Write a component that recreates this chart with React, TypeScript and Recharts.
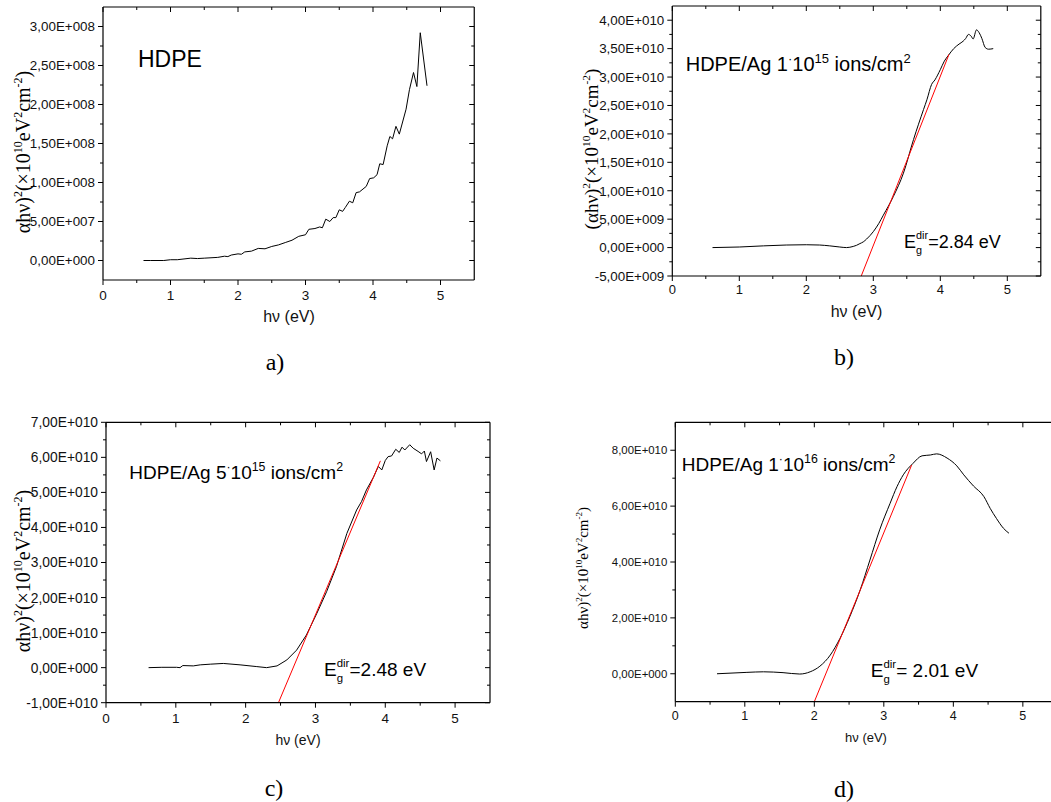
import React from 'react';
import { LineChart, Line, XAxis, YAxis } from 'recharts';

const SANS = '"Liberation Sans", Arial, Helvetica, sans-serif';
const SERIF = '"Liberation Serif", "Times New Roman", Times, serif';

// a) pristine HDPE, (αhν)² in units of 1e8
const hdpeEnergy = [0.6, 0.7, 0.8, 0.9, 1.0, 1.1, 1.2, 1.3, 1.4, 1.5, 1.6, 1.7, 1.8, 1.85, 1.9, 2.0, 2.05, 2.1, 2.2, 2.3, 2.4, 2.5, 2.6, 2.7, 2.8, 2.9, 3.0, 3.05, 3.14, 3.21, 3.25, 3.3, 3.36, 3.41, 3.45, 3.5, 3.55, 3.59, 3.65, 3.7, 3.75, 3.8, 3.9, 3.95, 4.01, 4.06, 4.1, 4.15, 4.21, 4.25, 4.29, 4.34, 4.39, 4.49, 4.54, 4.6, 4.65, 4.7, 4.8];
const hdpeAbs = [0.0, 0.0, 0.0, 0.0, 0.01, 0.01, 0.02, 0.03, 0.025, 0.03, 0.035, 0.04, 0.055, 0.05, 0.07, 0.085, 0.08, 0.11, 0.12, 0.155, 0.15, 0.18, 0.2, 0.23, 0.26, 0.31, 0.33, 0.4, 0.41, 0.43, 0.42, 0.53, 0.5, 0.55, 0.55, 0.65, 0.63, 0.68, 0.76, 0.74, 0.87, 0.88, 0.95, 1.05, 1.06, 1.1, 1.24, 1.23, 1.47, 1.59, 1.56, 1.72, 1.62, 1.94, 2.19, 2.41, 2.23, 2.92, 2.24];

// b) HDPE/Ag 1e15, units of 1e10
const ag15Energy = [0.6, 1.0, 1.36, 1.7, 2.0, 2.2, 2.35, 2.5, 2.6, 2.7, 2.75, 2.8, 2.85, 2.9, 3.0, 3.08, 3.15, 3.3, 3.45, 3.6, 3.75, 3.8, 3.87, 3.92, 4.0, 4.06, 4.12, 4.2, 4.28, 4.34, 4.38, 4.42, 4.46, 4.49, 4.54, 4.58, 4.62, 4.67, 4.72, 4.79];
const ag15Abs = [0.0, 0.01, 0.03, 0.045, 0.05, 0.045, 0.03, 0.01, 0.0, 0.02, 0.04, 0.07, 0.1, 0.15, 0.28, 0.42, 0.57, 0.9, 1.31, 1.9, 2.43, 2.6, 2.87, 2.95, 3.13, 3.28, 3.38, 3.5, 3.58, 3.63, 3.68, 3.75, 3.72, 3.67, 3.83, 3.78, 3.68, 3.52, 3.49, 3.5];
const ag15FitEnergy = [2.82, 4.13];
const ag15FitAbs = [-0.5, 3.4];

// c) HDPE/Ag 5e15, units of 1e10
const ag515Energy = [0.61, 0.8, 1.01, 1.06, 1.1, 1.25, 1.35, 1.5, 1.68, 1.92, 2.16, 2.3, 2.45, 2.59, 2.73, 2.87, 3.02, 3.16, 3.3, 3.45, 3.59, 3.66, 3.73, 3.83, 3.9, 3.95, 4.0, 4.04, 4.09, 4.15, 4.2, 4.24, 4.28, 4.35, 4.4, 4.47, 4.52, 4.56, 4.59, 4.65, 4.7, 4.74, 4.79];
const ag515Abs = [0.0, 0.01, 0.01, 0.0, 0.06, 0.05, 0.08, 0.1, 0.12, 0.08, 0.03, 0.0, 0.05, 0.22, 0.5, 0.93, 1.55, 2.17, 2.88, 3.83, 4.5, 4.74, 5.07, 5.43, 5.74, 5.64, 5.91, 6.02, 6.04, 6.23, 6.14, 6.29, 6.21, 6.36, 6.26, 6.17, 6.1, 6.18, 5.88, 6.16, 5.64, 5.98, 5.9];
const ag515FitEnergy = [2.47, 3.93];
const ag515FitAbs = [-1.0, 5.9];

// d) HDPE/Ag 1e16, units of 1e10
const ag16Energy = [0.6, 1.03, 1.27, 1.55, 1.79, 1.94, 2.08, 2.23, 2.37, 2.51, 2.66, 2.8, 2.94, 3.09, 3.19, 3.28, 3.42, 3.55, 3.67, 3.76, 3.91, 4.05, 4.15, 4.29, 4.44, 4.53, 4.62, 4.72, 4.8];
const ag16Abs = [0.0, 0.05, 0.07, 0.04, -0.01, 0.07, 0.27, 0.67, 1.27, 2.04, 3.0, 4.07, 5.15, 6.1, 6.7, 7.12, 7.53, 7.8, 7.83, 7.87, 7.72, 7.44, 7.12, 6.72, 6.34, 5.92, 5.56, 5.21, 5.03];
const ag16FitEnergy = [2.0, 3.4];
const ag16FitAbs = [-1.0, 7.47];

const xTicks = [0, 0.5, 1, 1.5, 2, 2.5, 3, 3.5, 4, 4.5, 5];
const yTicksA = [0, 0.25, 0.5, 0.75, 1, 1.25, 1.5, 1.75, 2, 2.25, 2.5, 2.75, 3];
const yTicksB = [-0.5, -0.25, 0, 0.25, 0.5, 0.75, 1, 1.25, 1.5, 1.75, 2, 2.25, 2.5, 2.75, 3, 3.25, 3.5, 3.75, 4];
const yTicksC = [-1, -0.5, 0, 0.5, 1, 1.5, 2, 2.5, 3, 3.5, 4, 4.5, 5, 5.5, 6, 6.5, 7];
const yTicksD = [0, 1, 2, 3, 4, 5, 6, 7, 8];

const toPts = (xs: number[], ys: number[]) => xs.map((x, i) => ({ x, y: ys[i] }));

const isMult = (v: number, step: number) => Math.abs(v / step - Math.round(v / step)) < 1e-6;

// Origin style: 3,00E+008
const sci = (v: number) => {
  if (Math.abs(v) < 1e-9) return '0,00E+000';
  const e = Math.floor(Math.log10(Math.abs(v)) + 1e-9);
  const m = v / Math.pow(10, e);
  return `${m.toFixed(2).replace('.', ',')}E${e < 0 ? '-' : '+'}${String(Math.abs(e)).padStart(3, '0')}`;
};

const AXIS = { stroke: '#000', strokeWidth: 1.2 };

type Panel = {
  left: number;
  top: number;
  width: number;
  height: number;
  // plot-area box inside the panel (axes are 1px thick, so margins are reduced by 1)
  plot: { top: number; right: number; bottom: number; left: number };
  yDomain: [number, number];
  yTicks: number[];
  yStep: number;
  yScale: number;
  curve: { x: number; y: number }[];
  fit?: { x: number; y: number }[];
  smooth: boolean;
  fontSize: number;
  xFontSize: number;
  xLabelOffset: number;
};

function ChartPanel(p: Panel) {
  const bottomTick = (t: any) => {
    const v = t.payload.value;
    const major = isMult(v, 1);
    return (
      <g>
        <line x1={t.x} y1={t.y} x2={t.x} y2={t.y + (major ? 5 : 3)} stroke="#000" />
        {major && (
          <text x={t.x} y={t.y + p.xLabelOffset} textAnchor="middle" fontSize={p.xFontSize} fontFamily={SANS} fill="#111">
            {v}
          </text>
        )}
      </g>
    );
  };
  const topTick = (t: any) => {
    const major = isMult(t.payload.value, 1);
    return <line x1={t.x} y1={t.y} x2={t.x} y2={t.y + (major ? 5 : 3)} stroke="#000" />;
  };
  const leftTick = (t: any) => {
    const v = t.payload.value;
    const major = isMult(v, p.yStep);
    return (
      <g>
        <line x1={t.x - (major ? 5 : 3)} y1={t.y} x2={t.x} y2={t.y} stroke="#000" />
        {major && (
          <text x={t.x - 8} y={t.y + p.fontSize * 0.36} textAnchor="end" fontSize={p.fontSize} fontFamily={SANS} fill="#111">
            {sci(v * p.yScale)}
          </text>
        )}
      </g>
    );
  };
  const rightTick = (t: any) => {
    const major = isMult(t.payload.value, p.yStep);
    return <line x1={t.x - (major ? 5 : 3)} y1={t.y} x2={t.x} y2={t.y} stroke="#000" />;
  };

  const margin = {
    top: p.plot.top - 1,
    right: p.plot.right - 1,
    bottom: p.plot.bottom - 1,
    left: p.plot.left - 1,
  };

  return (
    <div style={{ position: 'absolute', left: p.left, top: p.top, width: p.width, height: p.height }}>
      <LineChart width={p.width} height={p.height} margin={margin}>
        <XAxis xAxisId="b" type="number" dataKey="x" domain={[0, 5.5]} allowDataOverflow ticks={xTicks} interval={0}
          height={1} tickSize={0} tickMargin={0} axisLine={AXIS} tickLine={false} tick={bottomTick} />
        <XAxis xAxisId="t" orientation="top" type="number" dataKey="x" domain={[0, 5.5]} allowDataOverflow ticks={xTicks} interval={0}
          height={1} tickSize={0} tickMargin={0} axisLine={AXIS} tickLine={false} tick={topTick} />
        <YAxis yAxisId="l" type="number" domain={p.yDomain} allowDataOverflow ticks={p.yTicks} interval={0}
          width={1} tickSize={0} tickMargin={0} axisLine={AXIS} tickLine={false} tick={leftTick} />
        <YAxis yAxisId="r" orientation="right" type="number" domain={p.yDomain} allowDataOverflow ticks={p.yTicks} interval={0}
          width={1} tickSize={0} tickMargin={0} axisLine={AXIS} tickLine={false} tick={rightTick} />
        <Line xAxisId="b" yAxisId="l" data={p.curve} dataKey="y" type={p.smooth ? 'monotone' : 'linear'}
          stroke="#000" strokeWidth={1} dot={false} isAnimationActive={false} />
        {p.fit && (
          <Line xAxisId="b" yAxisId="l" data={p.fit} dataKey="y" type="linear"
            stroke="#ff0000" strokeWidth={1} dot={false} isAnimationActive={false} />
        )}
      </LineChart>
    </div>
  );
}

function Eg({ x, y, size, value }: { x: number; y: number; size: number; value: string }) {
  const sub = size * 0.6;
  const dx = size * 0.67;
  return (
    <g fontFamily={SANS} fill="#000">
      <text x={x} y={y} fontSize={size}>E</text>
      <text x={x + dx} y={y - size * 0.5} fontSize={sub}>dir</text>
      <text x={x + dx} y={y + size * 0.33} fontSize={sub}>g</text>
      <text x={x + dx + sub * 1.12} y={y} fontSize={size}>{value}</text>
    </g>
  );
}

function Dose({ x, y, size, mant, exp }: { x: number; y: number; size: number; mant: string; exp: string }) {
  const s = size * 0.65;
  const up = size * 0.42;
  return (
    <text x={x} y={y} fontSize={size} fontFamily={SANS} fill="#000">
      {`HDPE/Ag ${mant}`}
      <tspan dy={-up} fontSize={s}>·</tspan>
      <tspan dy={up}>10</tspan>
      <tspan dy={-up} fontSize={s}>{exp}</tspan>
      <tspan dy={up}>{' ions/cm'}</tspan>
      <tspan dy={-up} fontSize={s}>2</tspan>
    </text>
  );
}

function YTitle({ x, y, size, open }: { x: number; y: number; size: number; open: boolean }) {
  const s = size * 0.6;
  const up = size * 0.4;
  return (
    <text transform={`translate(${x},${y}) rotate(-90)`} textAnchor="middle" fontSize={size} fontFamily={SERIF} fill="#000">
      {open ? '(αhν)' : 'αhν)'}
      <tspan dy={-up} fontSize={s}>2</tspan>
      <tspan dy={up}>{'(×10'}</tspan>
      <tspan dy={-up} fontSize={s}>10</tspan>
      <tspan dy={up}>{'eV'}</tspan>
      <tspan dy={-up} fontSize={s}>2</tspan>
      <tspan dy={up}>{'cm'}</tspan>
      <tspan dy={-up} fontSize={s}>-2</tspan>
      <tspan dy={up}>)</tspan>
    </text>
  );
}

export default function App() {
  const panels: Panel[] = [
    {
      left: 0, top: 0, width: 520, height: 320,
      plot: { top: 7, right: 45.75, bottom: 40, left: 103 },
      yDomain: [-0.25, 3.25], yTicks: yTicksA, yStep: 0.5, yScale: 1e8,
      curve: toPts(hdpeEnergy, hdpeAbs), smooth: false, fontSize: 13.4, xFontSize: 13.5, xLabelOffset: 20,
    },
    {
      left: 530, top: 0, width: 521, height: 320,
      plot: { top: 6, right: 10.2, bottom: 44, left: 142.3 },
      yDomain: [-0.5, 4.25], yTicks: yTicksB, yStep: 0.5, yScale: 1e10,
      curve: toPts(ag15Energy, ag15Abs), fit: toPts(ag15FitEnergy, ag15FitAbs), smooth: true, fontSize: 13.4, xFontSize: 13, xLabelOffset: 18,
    },
    {
      left: 0, top: 390, width: 520, height: 350,
      plot: { top: 32.3, right: 30, bottom: 37.3, left: 106 },
      yDomain: [-1, 7], yTicks: yTicksC, yStep: 1, yScale: 1e10,
      curve: toPts(ag515Energy, ag515Abs), fit: toPts(ag515FitEnergy, ag515FitAbs), smooth: false, fontSize: 13.8, xFontSize: 13.5, xLabelOffset: 20,
    },
    {
      left: 530, top: 390, width: 540, height: 350,
      plot: { top: 32.3, right: 12.4, bottom: 38.3, left: 145.3 },
      yDomain: [-1, 9], yTicks: yTicksD, yStep: 2, yScale: 1e10,
      curve: toPts(ag16Energy, ag16Abs), fit: toPts(ag16FitEnergy, ag16FitAbs), smooth: true, fontSize: 11.4, xFontSize: 12.5, xLabelOffset: 18.5,
    },
  ];

  return (
    <div style={{ position: 'absolute', left: 0, top: 0, width: 1051, height: 802, overflow: 'hidden', background: '#fff' }}>
      {panels.map((p, i) => (
        <ChartPanel key={i} {...p} />
      ))}
      <svg width={1051} height={802} style={{ position: 'absolute', left: 0, top: 0, pointerEvents: 'none' }}>
        <text x={138} y={67} fontSize={23} fontFamily={SANS}>HDPE</text>
        <Dose x={685.7} y={71} size={20} mant="1" exp="15" />
        <Dose x={129.3} y={479} size={19} mant="5" exp="15" />
        <Dose x={681.7} y={471} size={19} mant="1" exp="16" />

        <Eg x={904} y={248} size={18} value="=2.84 eV" />
        <Eg x={324} y={676} size={19} value="=2.48 eV" />
        <Eg x={870.7} y={677} size={19} value="= 2.01 eV" />

        <text x={289} y={322} textAnchor="middle" fontSize={16} fontFamily={SANS} fill="#111">hν (eV)</text>
        <text x={856.5} y={317} textAnchor="middle" fontSize={16} fontFamily={SANS} fill="#111">hν (eV)</text>
        <text x={298} y={745} textAnchor="middle" fontSize={14} fontFamily={SANS} fill="#111">hν (eV)</text>
        <text x={866} y={742} textAnchor="middle" fontSize={13} fontFamily={SANS} fill="#111">hν (eV)</text>

        <YTitle x={30} y={152} size={20} open={false} />
        <YTitle x={598} y={149} size={19} open={true} />
        <YTitle x={30} y={571} size={20} open={false} />
        <YTitle x={588} y={568} size={15} open={false} />

        <text x={275} y={370} textAnchor="middle" fontSize={24} fontFamily={SERIF}>a)</text>
        <text x={844} y={365} textAnchor="middle" fontSize={24} fontFamily={SERIF}>b)</text>
        <text x={274} y={796} textAnchor="middle" fontSize={24} fontFamily={SERIF}>c)</text>
        <text x={844} y={797} textAnchor="middle" fontSize={24} fontFamily={SERIF}>d)</text>
      </svg>
    </div>
  );
}
